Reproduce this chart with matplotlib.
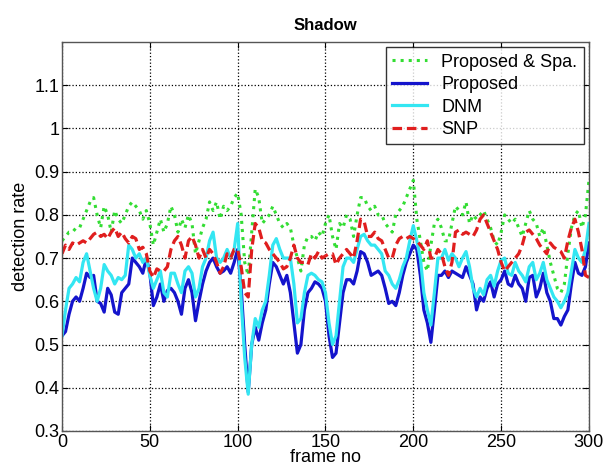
import numpy as np
import matplotlib
matplotlib.use("Agg")
import matplotlib.pyplot as plt

plt.rcParams['font.family'] = ['Liberation Sans', 'DejaVu Sans']

# frames sampled every 2 frames, 0..300
frames = np.arange(0, 301, 2)

proposed_spa = [
    0.74, 0.75, 0.76, 0.76, 0.77, 0.77, 0.79, 0.81, 0.83, 0.84,
    0.80, 0.77, 0.82, 0.80, 0.76, 0.81, 0.79, 0.78, 0.80, 0.82,
    0.83, 0.82, 0.81, 0.79, 0.81, 0.78, 0.73, 0.76, 0.79, 0.76,
    0.78, 0.82, 0.80, 0.76, 0.79, 0.77, 0.80, 0.78, 0.71, 0.74,
    0.77, 0.79, 0.83, 0.81, 0.83, 0.79, 0.82, 0.81, 0.82, 0.84,
    0.85, 0.80, 0.69, 0.66, 0.76, 0.86, 0.84, 0.78, 0.79, 0.80,
    0.82, 0.80, 0.78, 0.77, 0.78, 0.77, 0.73, 0.70, 0.67, 0.73,
    0.75, 0.75, 0.74, 0.76, 0.75, 0.78, 0.80, 0.75, 0.72, 0.78,
    0.77, 0.80, 0.79, 0.75, 0.80, 0.84, 0.84, 0.82, 0.81, 0.82,
    0.80, 0.80, 0.78, 0.77, 0.76, 0.80, 0.81, 0.82, 0.84, 0.86,
    0.88, 0.79, 0.74, 0.69, 0.67, 0.73, 0.78, 0.79, 0.77, 0.74,
    0.74, 0.78, 0.82, 0.81, 0.80, 0.83, 0.78, 0.80, 0.79, 0.80,
    0.81, 0.79, 0.77, 0.74, 0.73, 0.76, 0.80, 0.79, 0.78, 0.79,
    0.77, 0.75, 0.78, 0.81, 0.79, 0.78, 0.75, 0.77, 0.73, 0.69,
    0.66, 0.63, 0.62, 0.64, 0.71, 0.77, 0.80, 0.81, 0.77, 0.80,
    0.88,
]

proposed = [
    0.52, 0.53, 0.57, 0.60, 0.61, 0.60, 0.63, 0.665, 0.655, 0.66,
    0.60, 0.595, 0.575, 0.63, 0.615, 0.575, 0.57, 0.62, 0.63, 0.64,
    0.70, 0.69, 0.68, 0.665, 0.70, 0.665, 0.59, 0.61, 0.64, 0.60,
    0.625, 0.63, 0.62, 0.60, 0.57, 0.63, 0.65, 0.62, 0.555, 0.60,
    0.64, 0.67, 0.69, 0.70, 0.68, 0.665, 0.67, 0.68, 0.665, 0.69,
    0.72, 0.63, 0.50, 0.39, 0.50, 0.54, 0.51, 0.55, 0.58, 0.64,
    0.69, 0.68, 0.66, 0.64, 0.66, 0.62, 0.55, 0.48, 0.50, 0.58,
    0.62, 0.63, 0.645, 0.64, 0.63, 0.60, 0.52, 0.47, 0.48, 0.55,
    0.62, 0.65, 0.65, 0.64, 0.67, 0.715, 0.71, 0.69, 0.66, 0.665,
    0.67, 0.66, 0.63, 0.595, 0.60, 0.59, 0.62, 0.66, 0.69, 0.71,
    0.73, 0.72, 0.66, 0.58, 0.55, 0.505, 0.58, 0.66, 0.66, 0.67,
    0.655, 0.67, 0.665, 0.66, 0.655, 0.68, 0.66, 0.64, 0.58, 0.61,
    0.60, 0.63, 0.645, 0.61, 0.64, 0.65, 0.67, 0.64, 0.635, 0.66,
    0.64, 0.63, 0.60, 0.655, 0.66, 0.61, 0.63, 0.665, 0.62, 0.60,
    0.56, 0.56, 0.545, 0.565, 0.58, 0.64, 0.69, 0.665, 0.66, 0.68,
    0.735,
]

dnm = [
    0.52, 0.58, 0.63, 0.64, 0.655, 0.645, 0.69, 0.71, 0.67, 0.63,
    0.60, 0.63, 0.685, 0.67, 0.66, 0.64, 0.655, 0.65, 0.66, 0.73,
    0.72, 0.70, 0.71, 0.69, 0.70, 0.66, 0.63, 0.65, 0.67, 0.62,
    0.61, 0.665, 0.665, 0.64, 0.62, 0.67, 0.68, 0.665, 0.61, 0.63,
    0.68, 0.70, 0.74, 0.76, 0.70, 0.69, 0.70, 0.72, 0.70, 0.72,
    0.78, 0.60, 0.47, 0.385, 0.50, 0.56, 0.54, 0.58, 0.60, 0.66,
    0.73, 0.745, 0.72, 0.70, 0.70, 0.70, 0.64, 0.55, 0.56, 0.62,
    0.66, 0.665, 0.66, 0.65, 0.645, 0.62, 0.55, 0.50, 0.52, 0.60,
    0.68, 0.70, 0.70, 0.69, 0.72, 0.75, 0.755, 0.74, 0.73, 0.73,
    0.72, 0.71, 0.67, 0.66, 0.64, 0.63, 0.65, 0.68, 0.70, 0.74,
    0.775, 0.74, 0.70, 0.62, 0.58, 0.545, 0.62, 0.70, 0.70, 0.72,
    0.695, 0.71, 0.70, 0.68, 0.70, 0.715, 0.68, 0.63, 0.61, 0.63,
    0.615, 0.65, 0.66, 0.635, 0.67, 0.695, 0.70, 0.665, 0.66, 0.69,
    0.67, 0.66, 0.645, 0.68, 0.69, 0.65, 0.665, 0.69, 0.65, 0.63,
    0.61, 0.60, 0.585, 0.60, 0.62, 0.67, 0.72, 0.70, 0.69, 0.72,
    0.78,
]

snp = [
    0.71, 0.73, 0.72, 0.735, 0.73, 0.735, 0.74, 0.735, 0.745, 0.755,
    0.76, 0.75, 0.755, 0.745, 0.76, 0.77, 0.75, 0.76, 0.745, 0.735,
    0.75, 0.745, 0.72, 0.725, 0.71, 0.67, 0.655, 0.675, 0.67, 0.67,
    0.68, 0.72, 0.74, 0.75, 0.73, 0.70, 0.74, 0.75, 0.73, 0.70,
    0.72, 0.70, 0.72, 0.71, 0.69, 0.665, 0.68, 0.71, 0.70, 0.72,
    0.72, 0.68, 0.62, 0.61, 0.72, 0.78, 0.77, 0.74, 0.735, 0.72,
    0.71, 0.70, 0.69, 0.675, 0.68, 0.70, 0.73, 0.70, 0.69, 0.69,
    0.685, 0.71, 0.70, 0.715, 0.70, 0.705, 0.71, 0.71, 0.685, 0.70,
    0.71, 0.72, 0.71, 0.70, 0.74, 0.79, 0.785, 0.75, 0.75, 0.76,
    0.745, 0.74, 0.72, 0.70, 0.70, 0.73, 0.745, 0.75, 0.745, 0.75,
    0.745, 0.74, 0.73, 0.72, 0.74, 0.70, 0.70, 0.72, 0.71, 0.68,
    0.66, 0.69, 0.76, 0.765, 0.755, 0.76, 0.755, 0.75, 0.765, 0.79,
    0.80, 0.78, 0.76, 0.74, 0.72, 0.69, 0.67, 0.68, 0.69, 0.70,
    0.71, 0.73, 0.76, 0.765, 0.755, 0.745, 0.73, 0.72, 0.71, 0.735,
    0.725, 0.72, 0.715, 0.70, 0.74, 0.77, 0.79, 0.76, 0.72, 0.66,
    0.655,
]

labels = ['Proposed & Spa.', 'Proposed', 'DNM', 'SNP']
y_ticks = [0.3, 0.4, 0.5, 0.6, 0.7, 0.8, 0.9, 1, 1.1]
y_tick_labels = ['0.3', '0.4', '0.5', '0.6', '0.7', '0.8', '0.9', '1', '1.1']
x_ticks = [0, 50, 100, 150, 200, 250, 300]

fig = plt.figure(figsize=(6.05, 4.72), dpi=100)
ax = fig.add_axes([0.1025, 0.087, 0.871, 0.824])

ax.plot(frames, proposed_spa, color='#33dd33', linestyle=':', linewidth=2.2, label=labels[0])
ax.plot(frames, proposed, color='#1414cc', linestyle='-', linewidth=2.3, label=labels[1])
ax.plot(frames, dnm, color='#33e6f2', linestyle='-', linewidth=2.3, label=labels[2])
ax.plot(frames, snp, color='#e01e1e', linestyle='--', linewidth=2.3, dashes=(3, 1.5), label=labels[3])

ax.set_xlim(0, 300)
ax.set_ylim(0.3, 1.2)
ax.set_xticks(x_ticks)
ax.set_yticks(y_ticks)
ax.set_yticklabels(y_tick_labels)
ax.tick_params(direction='in', labelsize=13, length=4, top=True, right=True, pad=2)
ax.grid(True, color='black', linestyle=':', linewidth=0.9)
for s in ax.spines.values():
    s.set_color('#555555')
    s.set_linewidth(1.0)

ax.set_title('Shadow', fontsize=12, fontweight='bold', pad=9)
ax.set_xlabel('frame no', fontsize=13, labelpad=-1)
ax.set_ylabel('detection rate', fontsize=13, labelpad=4)

leg = ax.legend(loc='upper right', fontsize=13, frameon=True, fancybox=False,
                borderaxespad=0.3, handlelength=1.9, labelspacing=0.3,
                borderpad=0.35, handletextpad=0.8)
leg.get_frame().set_edgecolor('black')
leg.get_frame().set_linewidth(1.0)

fig.savefig('out.png', dpi=100)
